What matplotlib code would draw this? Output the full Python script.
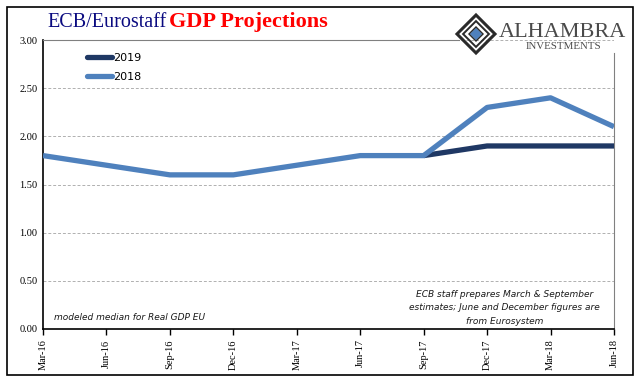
import matplotlib
matplotlib.use("Agg")
import matplotlib.pyplot as plt
from matplotlib.patches import Rectangle, Polygon

# data
quarters = ["Mar-16", "Jun-16", "Sep-16", "Dec-16", "Mar-17", "Jun-17",
            "Sep-17", "Dec-17", "Mar-18", "Jun-18"]
proj_2018 = [1.8, 1.7, 1.6, 1.6, 1.7, 1.8, 1.8, 2.3, 2.4, 2.1]
proj_2019_quarters = ["Sep-17", "Dec-17", "Mar-18", "Jun-18"]
proj_2019 = [1.8, 1.9, 1.9, 1.9]
yticks = [0.0, 0.5, 1.0, 1.5, 2.0, 2.5, 3.0]

c2019 = "#1f3864"
c2018 = "#4f81bd"
serif = "Liberation Serif"
W, H = 641, 381

def fx(px):
    return px / W

def fy(py):
    return 1 - py / H

fig = plt.figure(figsize=(W/100, H/100), dpi=100)
ax = fig.add_axes([fx(43), fy(329), (614-43)/W, (329-40)/H])

x18 = list(range(len(quarters)))
x19 = [quarters.index(q) for q in proj_2019_quarters]
ax.plot(x19, proj_2019, color=c2019, lw=3.8, label="2019", solid_capstyle="butt", zorder=3)
ax.plot(x18, proj_2018, color=c2018, lw=3.8, label="2018", solid_capstyle="butt", zorder=4)

ax.set_xlim(0, len(quarters)-1)
ax.set_ylim(0, 3.0)
ax.set_xticks(x18)
ax.set_xticklabels(quarters, rotation=90, fontfamily=serif, fontsize=7.5)
ax.set_yticks(yticks)
ax.set_yticklabels([f"{v:.2f}" for v in yticks], fontfamily=serif, fontsize=7.5)
ax.tick_params(axis="y", length=0, pad=4)
ax.tick_params(axis="x", length=4, direction="out", width=1)
for v in yticks[1:]:
    ax.axhline(v, color="#b0b0b0", lw=0.7, ls=(0, (3, 2)), zorder=1)

ax.spines["left"].set_color("black")
ax.spines["left"].set_linewidth(1.2)
ax.spines["bottom"].set_color("black")
ax.spines["bottom"].set_linewidth(1.2)
ax.spines["right"].set_color("#808080")
ax.spines["right"].set_linewidth(0.8)
ax.spines["right"].set_bounds(0, 2.87)
ax.spines["top"].set_color("#808080")
ax.spines["top"].set_linewidth(0.8)
ax.spines["top"].set_bounds(0, 6.55)

leg = ax.legend(loc="upper left", bbox_to_anchor=(0.06, 0.99), frameon=False,
                fontsize=8, handlelength=2.2, handletextpad=0.1, labelspacing=0.85)
for h in leg.get_lines():
    h.set_solid_capstyle("round")

ax.text(0.02, 0.025, "modeled median for Real GDP EU", transform=ax.transAxes,
        fontsize=6.5, style="italic", color="#1a1a1a", va="bottom", ha="left")
ax.text(0.808, 0.012, "ECB staff prepares March & September\nestimates; June and December figures are\nfrom Eurosystem",
        transform=ax.transAxes, fontsize=6.5, style="italic", color="#1a1a1a",
        va="bottom", ha="center", linespacing=1.6)

# title
t1 = fig.text(fx(47), fy(27), "ECB/Eurostaff", fontfamily=serif, fontsize=14.5,
              color="#0a0a80", va="baseline")
fig.canvas.draw()
bb = t1.get_window_extent()
fig.text(bb.x1/W + 0.005, fy(27), "GDP Projections", fontfamily=serif, fontsize=16,
         fontweight="bold", color="#ff0000", va="baseline")

# logo
fig.text(fx(499), fy(37), "ALHAMBRA", fontfamily=serif, fontsize=16,
         color="#4a4a4a", va="baseline")
fig.text(fx(526), fy(49), "INVESTMENTS", fontfamily=serif, fontsize=7.8,
         color="#4a4a4a", va="baseline")
cx, cy, r = 476, 34, 19
for rr, lw in [(r, 2.2), (r*0.68, 1.4), (r*0.36, 1.2)]:
    fig.patches.append(Polygon([(fx(cx), fy(cy-rr)), (fx(cx+rr), fy(cy)),
                                (fx(cx), fy(cy+rr)), (fx(cx-rr), fy(cy))],
                               closed=True, transform=fig.transFigure, fill=False,
                               ec="#2a2a2a", lw=lw))
rb = 6
fig.patches.append(Polygon([(fx(cx), fy(cy-rb)), (fx(cx+rb), fy(cy)),
                            (fx(cx), fy(cy+rb)), (fx(cx-rb), fy(cy))],
                           closed=True, transform=fig.transFigure, fc=c2018, ec="none"))

# outer frame
fig.patches.append(Rectangle((fx(7), fy(375)), (633-7)/W, (375-7)/H,
                             transform=fig.transFigure, fill=False, ec="black", lw=1.2))

fig.savefig("out.png", dpi=100)
